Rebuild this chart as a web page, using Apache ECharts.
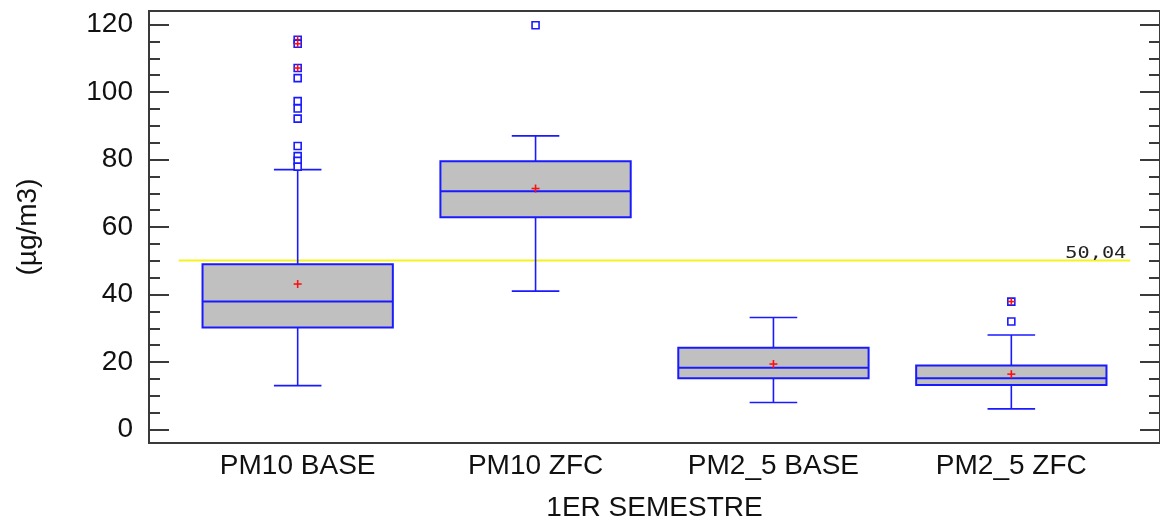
<!DOCTYPE html>
<html>
<head>
<meta charset="utf-8">
<script src="https://cdn.jsdelivr.net/npm/echarts@6/dist/echarts.min.js"></script>
<style>
html,body{margin:0;padding:0;background:#fff;overflow:hidden;}
#chart{width:1160px;height:527px;}
</style>
</head>
<body>
<div id="chart"></div>
<script>
// ---- data ----
const categories = ['PM10 BASE', 'PM10 ZFC', 'PM2_5 BASE', 'PM2_5 ZFC'];
const lowWhisker  = [13.0, 41.0, 8.0, 6.1];
const q1          = [30.2, 62.9, 15.2, 13.2];
const median      = [37.9, 70.6, 18.3, 15.2];
const q3          = [49.0, 79.5, 24.2, 19.0];
const highWhisker = [77.0, 87.0, 33.2, 28.0];
const means       = [43.1, 71.4, 19.4, 16.4];
const outliers    = [
  [115.5, 114.3, 107.1, 104.1, 97.3, 95.1, 92.1, 84.0, 81.0, 79.6, 77.9],
  [119.8],
  [],
  [37.9, 32.0]
];
const farOutliers = [
  [115.5, 114.3, 107.1],
  [],
  [],
  [37.9]
];
const refValue = 50.04;
const refLabel = '50,04';
const yTicks = [0, 20, 40, 60, 80, 100, 120];
const yMinorTicks = [0, 5, 10, 15, 20, 25, 30, 35, 40, 45, 50, 55, 60, 65, 70, 75, 80, 85, 90, 95, 100, 105, 110, 115, 120];
const xPositions = [1, 2, 3, 4];
const yAxisTitle = '(µg/m3)';
const xAxisTitle = '1ER SEMESTRE';

// ---- build ----
const BLUE = '#1a1aff';
const boxData = categories.map((c, i) => [xPositions[i], lowWhisker[i], q1[i], median[i], q3[i], highWhisker[i], means[i]]);
const outData = [];
outliers.forEach((arr, i) => arr.forEach(v => outData.push([xPositions[i], v, farOutliers[i].indexOf(v) >= 0 ? 1 : 0])));

function plus(cx, cy, r) {
  return [
    {type: 'line', shape: {x1: cx - r, y1: cy, x2: cx + r, y2: cy}, style: {stroke: '#ff1010', lineWidth: 1.6}},
    {type: 'line', shape: {x1: cx, y1: cy - r, x2: cx, y2: cy + r}, style: {stroke: '#ff1010', lineWidth: 1.6}}
  ];
}

const chart = echarts.init(document.getElementById('chart'), null, {renderer: 'canvas', width: 1160, height: 527});
const fontFamily = "'Liberation Sans', Arial, sans-serif";
const option = {
  animation: false,
  backgroundColor: '#fff',
  grid: {left: 149, width: 1013, top: 11, height: 439, show: true, borderColor: '#3a3a3a', borderWidth: 2, containLabel: false},
  xAxis: {
    type: 'value', min: 0.375, max: 4.625,
    axisLine: {show: false}, axisTick: {show: false}, splitLine: {show: false},
    axisLabel: {customValues: xPositions, formatter: v => categories[xPositions.indexOf(v)] || '', fontFamily, fontSize: 28, color: '#111', margin: 9},
    name: xAxisTitle, nameLocation: 'middle', nameGap: 51,
    nameTextStyle: {fontFamily, fontSize: 28, color: '#111'}
  },
  yAxis: [
    {type: 'value', position: 'left', min: -4, max: 124,
     axisLine: {show: false}, splitLine: {show: false},
     axisTick: {show: true, inside: true, length: 20, customValues: yTicks, lineStyle: {color: '#3a3a3a', width: 2}},
     axisLabel: {customValues: yTicks, fontFamily, fontSize: 28, color: '#111', margin: 16},
     name: yAxisTitle, nameLocation: 'middle', nameRotate: 90, nameGap: 107,
     nameTextStyle: {fontFamily, fontSize: 28, color: '#111'}},
    {type: 'value', position: 'left', min: -4, max: 124,
     axisLine: {show: false}, splitLine: {show: false}, axisLabel: {show: false},
     axisTick: {show: true, inside: true, length: 11, customValues: yMinorTicks, lineStyle: {color: '#3a3a3a', width: 2}}},
    {type: 'value', position: 'right', min: -4, max: 124,
     axisLine: {show: false}, splitLine: {show: false}, axisLabel: {show: false},
     axisTick: {show: true, inside: true, length: 20, customValues: yTicks, lineStyle: {color: '#3a3a3a', width: 2}}},
    {type: 'value', position: 'right', min: -4, max: 124,
     axisLine: {show: false}, splitLine: {show: false}, axisLabel: {show: false},
     axisTick: {show: true, inside: true, length: 11, customValues: yMinorTicks, lineStyle: {color: '#3a3a3a', width: 2}}}
  ],
  series: [
    {
      type: 'custom', name: 'ref', z: 1,
      data: [[0.5, 4.5, refValue]],
      encode: {x: [0, 1], y: 2},
      renderItem: (params, api) => {
        const a = api.coord([api.value(0), api.value(2)]);
        const b = api.coord([api.value(1), api.value(2)]);
        return {type: 'group', children: [
          {type: 'line', shape: {x1: a[0], y1: a[1], x2: b[0], y2: b[1]}, style: {stroke: '#f4f41c', lineWidth: 2}},
          {type: 'text', x: b[0] - 4, y: b[1] + 1, scaleX: 1.35,
           style: {text: refLabel, x: 0, y: 0, align: 'right', verticalAlign: 'bottom', fill: '#222', font: "15px 'DejaVu Sans Mono', monospace"}}
        ]};
      }
    },
    {
      type: 'custom', name: 'box', z: 2,
      data: boxData,
      encode: {x: 0, y: [1, 2, 3, 4, 5, 6]},
      renderItem: (params, api) => {
        const x = api.value(0);
        const c = v => api.coord([x, v]);
        const half = api.size([0.4, 0])[0];
        const cap = api.size([0.1, 0])[0];
        const pLo = c(api.value(1)), pQ1 = c(api.value(2)), pMed = c(api.value(3)), pQ3 = c(api.value(4)), pHi = c(api.value(5)), pMean = c(api.value(6));
        const cx = pMed[0];
        const ls = {stroke: BLUE, lineWidth: 1.6};
        return {type: 'group', children: [
          {type: 'line', shape: {x1: cx, y1: pHi[1], x2: cx, y2: pQ3[1]}, style: ls},
          {type: 'line', shape: {x1: cx, y1: pQ1[1], x2: cx, y2: pLo[1]}, style: ls},
          {type: 'line', shape: {x1: cx - cap, y1: pHi[1], x2: cx + cap, y2: pHi[1]}, style: ls},
          {type: 'line', shape: {x1: cx - cap, y1: pLo[1], x2: cx + cap, y2: pLo[1]}, style: ls},
          {type: 'rect', shape: {x: cx - half, y: pQ3[1], width: 2 * half, height: pQ1[1] - pQ3[1]}, style: {fill: '#c0c0c0', stroke: BLUE, lineWidth: 2}},
          {type: 'line', shape: {x1: cx - half, y1: pMed[1], x2: cx + half, y2: pMed[1]}, style: {stroke: BLUE, lineWidth: 2}}
        ].concat(plus(cx, pMean[1], 4))};
      }
    },
    {
      type: 'custom', name: 'outliers', z: 3,
      data: outData,
      encode: {x: 0, y: 1},
      renderItem: (params, api) => {
        const p = api.coord([api.value(0), api.value(1)]);
        const kids = [{type: 'rect', shape: {x: p[0] - 3.5, y: p[1] - 3.5, width: 7, height: 7}, style: {fill: '#fff', stroke: BLUE, lineWidth: 1.6}}];
        return {type: 'group', children: api.value(2) ? kids.concat(plus(p[0], p[1], 3.5)) : kids};
      }
    }
  ]
};
chart.setOption(option);
</script>
</body>
</html>
